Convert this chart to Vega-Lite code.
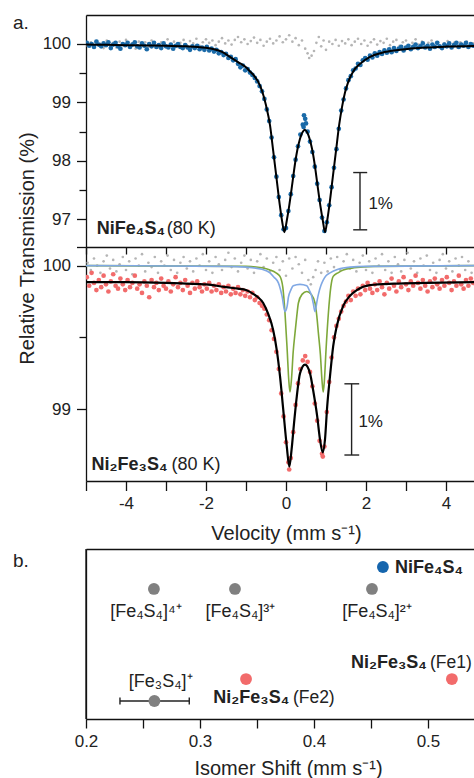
{
"$schema": "https://vega.github.io/schema/vega-lite/v6.json",
"width": 388, "height": 704,
"autosize": "none",
"padding": {"left": 86, "top": 15, "right": 0, "bottom": 59},
"background": "white",
"config": {
  "font": "Liberation Sans",
  "view": {"stroke": null},
  "axis": {"domainColor": "#111", "domainWidth": 1.3, "tickColor": "#111", "tickWidth": 1.3, "labelColor": "#222", "labelFontSize": 17, "labelFont": "Liberation Sans", "titleFont": "Liberation Sans", "titleFontWeight": "normal", "titleFontSize": 20, "titleColor": "#222", "grid": false, "labelOverlap": false, "labelBound": false, "labelFlush": false},
  "text": {"font": "Liberation Sans", "color": "#222"}
},
"datasets": {
  "blue": [
{"v":-4.98,"t":100.02},{"v":-4.92,"t":99.97},{"v":-4.86,"t":100.0},{"v":-4.8,"t":99.95},{"v":-4.74,"t":100.04},{"v":-4.68,"t":99.99},{"v":-4.62,"t":99.96},{"v":-4.56,"t":100.01},{"v":-4.5,"t":99.98},{"v":-4.44,"t":100.03},{"v":-4.38,"t":99.93},{"v":-4.32,"t":99.99},{"v":-4.26,"t":100.02},{"v":-4.2,"t":99.96},{"v":-4.14,"t":99.92},{"v":-4.08,"t":100.0},{"v":-4.02,"t":99.98},{"v":-3.96,"t":100.02},{"v":-3.9,"t":99.95},{"v":-3.84,"t":99.99},{"v":-3.78,"t":100.03},{"v":-3.72,"t":99.96},{"v":-3.66,"t":99.94},{"v":-3.6,"t":100.01},{"v":-3.54,"t":99.97},{"v":-3.48,"t":99.91},{"v":-3.42,"t":100.0},{"v":-3.36,"t":99.96},{"v":-3.3,"t":100.02},{"v":-3.24,"t":99.95},{"v":-3.18,"t":99.98},{"v":-3.12,"t":99.93},{"v":-3.06,"t":100.01},{"v":-3.0,"t":99.96},{"v":-2.94,"t":99.94},{"v":-2.88,"t":99.99},{"v":-2.82,"t":99.92},{"v":-2.76,"t":99.97},{"v":-2.7,"t":100.0},{"v":-2.64,"t":99.95},{"v":-2.58,"t":99.93},{"v":-2.52,"t":99.98},{"v":-2.46,"t":99.94},{"v":-2.4,"t":99.9},{"v":-2.34,"t":99.96},{"v":-2.28,"t":99.93},{"v":-2.22,"t":99.97},{"v":-2.16,"t":99.91},{"v":-2.1,"t":99.94},{"v":-2.04,"t":99.9},{"v":-1.98,"t":99.95},{"v":-1.92,"t":99.89},{"v":-1.86,"t":99.92},{"v":-1.8,"t":99.87},{"v":-1.74,"t":99.9},{"v":-1.68,"t":99.84},{"v":-1.62,"t":99.86},{"v":-1.56,"t":99.81},{"v":-1.5,"t":99.83},{"v":-1.44,"t":99.76},{"v":-1.38,"t":99.78},{"v":-1.32,"t":99.72},{"v":-1.26,"t":99.74},{"v":-1.2,"t":99.66},{"v":-1.14,"t":99.6},{"v":-1.08,"t":99.63},{"v":-1.02,"t":99.55},{"v":-0.96,"t":99.57},{"v":-0.9,"t":99.51},{"v":-0.84,"t":99.47},{"v":-0.78,"t":99.42},{"v":-0.72,"t":99.36},{"v":-0.66,"t":99.28},{"v":-0.6,"t":99.19},{"v":-0.54,"t":99.06},{"v":-0.48,"t":98.88},{"v":-0.42,"t":98.68},{"v":-0.36,"t":98.4},{"v":-0.3,"t":98.06},{"v":-0.24,"t":97.73},{"v":-0.18,"t":97.38},{"v":-0.12,"t":97.07},{"v":-0.06,"t":96.83},{"v":0.0,"t":96.85},{"v":0.06,"t":97.14},{"v":0.12,"t":97.43},{"v":0.18,"t":97.74},{"v":0.24,"t":98.02},{"v":0.3,"t":98.25},{"v":0.36,"t":98.45},{"v":0.42,"t":98.62},{"v":0.48,"t":98.72},{"v":0.54,"t":98.5},{"v":0.6,"t":98.33},{"v":0.66,"t":98.15},{"v":0.72,"t":97.9},{"v":0.78,"t":97.61},{"v":0.84,"t":97.33},{"v":0.9,"t":97.03},{"v":0.96,"t":96.8},{"v":1.02,"t":96.95},{"v":1.08,"t":97.24},{"v":1.14,"t":97.55},{"v":1.2,"t":97.88},{"v":1.26,"t":98.2},{"v":1.32,"t":98.55},{"v":1.38,"t":98.86},{"v":1.44,"t":99.05},{"v":1.5,"t":99.24},{"v":1.56,"t":99.38},{"v":1.62,"t":99.45},{"v":1.68,"t":99.55},{"v":1.74,"t":99.58},{"v":1.8,"t":99.66},{"v":1.86,"t":99.64},{"v":1.92,"t":99.72},{"v":1.98,"t":99.76},{"v":2.04,"t":99.73},{"v":2.1,"t":99.8},{"v":2.16,"t":99.77},{"v":2.22,"t":99.84},{"v":2.28,"t":99.8},{"v":2.34,"t":99.86},{"v":2.4,"t":99.83},{"v":2.46,"t":99.89},{"v":2.52,"t":99.85},{"v":2.58,"t":99.91},{"v":2.64,"t":99.86},{"v":2.7,"t":99.93},{"v":2.76,"t":99.88},{"v":2.82,"t":99.92},{"v":2.88,"t":99.95},{"v":2.94,"t":99.89},{"v":3.0,"t":99.94},{"v":3.06,"t":99.97},{"v":3.12,"t":99.91},{"v":3.18,"t":99.95},{"v":3.24,"t":99.99},{"v":3.3,"t":99.93},{"v":3.36,"t":99.96},{"v":3.42,"t":100.01},{"v":3.48,"t":99.94},{"v":3.54,"t":99.97},{"v":3.6,"t":99.92},{"v":3.66,"t":99.99},{"v":3.72,"t":99.95},{"v":3.78,"t":100.02},{"v":3.84,"t":99.96},{"v":3.9,"t":99.93},{"v":3.96,"t":99.99},{"v":4.02,"t":99.96},{"v":4.08,"t":100.01},{"v":4.14,"t":99.94},{"v":4.2,"t":99.98},{"v":4.26,"t":100.02},{"v":4.32,"t":99.95},{"v":4.38,"t":99.99},{"v":4.44,"t":99.97},{"v":4.5,"t":100.02},{"v":4.56,"t":99.95},{"v":4.62,"t":100.0},{"v":4.68,"t":99.97},{"v":0.45,"t":98.78},{"v":0.5,"t":98.64},{"v":0.44,"t":98.58}
  ],
  "grayTop": [
{"v":-4.96,"t":99.97},{"v":-4.88,"t":100.03},{"v":-4.8,"t":99.95},{"v":-4.72,"t":100.05},{"v":-4.64,"t":100.0},{"v":-4.56,"t":99.93},{"v":-4.48,"t":100.06},{"v":-4.4,"t":99.98},{"v":-4.32,"t":100.02},{"v":-4.24,"t":99.94},{"v":-4.16,"t":100.04},{"v":-4.08,"t":99.99},{"v":-4.0,"t":100.07},{"v":-3.92,"t":99.96},{"v":-3.84,"t":100.01},{"v":-3.76,"t":99.92},{"v":-3.68,"t":100.04},{"v":-3.6,"t":99.98},{"v":-3.52,"t":100.03},{"v":-3.44,"t":99.95},{"v":-3.36,"t":100.06},{"v":-3.28,"t":100.0},{"v":-3.2,"t":99.94},{"v":-3.12,"t":100.03},{"v":-3.04,"t":99.97},{"v":-2.96,"t":100.08},{"v":-2.88,"t":99.99},{"v":-2.8,"t":100.04},{"v":-2.72,"t":99.95},{"v":-2.64,"t":100.02},{"v":-2.56,"t":100.07},{"v":-2.48,"t":99.98},{"v":-2.4,"t":100.05},{"v":-2.32,"t":100.01},{"v":-2.24,"t":100.09},{"v":-2.16,"t":99.97},{"v":-2.08,"t":100.03},{"v":-2.0,"t":100.08},{"v":-1.92,"t":100.02},{"v":-1.84,"t":100.06},{"v":-1.76,"t":99.98},{"v":-1.68,"t":100.04},{"v":-1.6,"t":100.1},{"v":-1.52,"t":100.01},{"v":-1.44,"t":100.06},{"v":-1.36,"t":99.99},{"v":-1.28,"t":100.07},{"v":-1.2,"t":100.12},{"v":-1.12,"t":100.03},{"v":-1.04,"t":100.08},{"v":-0.96,"t":100.0},{"v":-0.88,"t":100.05},{"v":-0.8,"t":100.11},{"v":-0.72,"t":100.02},{"v":-0.64,"t":100.07},{"v":-0.56,"t":99.97},{"v":-0.48,"t":100.04},{"v":-0.4,"t":100.09},{"v":-0.32,"t":100.01},{"v":-0.24,"t":100.06},{"v":-0.16,"t":100.13},{"v":-0.08,"t":100.03},{"v":0.0,"t":100.08},{"v":0.08,"t":100.15},{"v":0.16,"t":100.04},{"v":0.24,"t":100.1},{"v":0.32,"t":99.98},{"v":0.4,"t":100.06},{"v":0.48,"t":99.92},{"v":0.54,"t":99.84},{"v":0.58,"t":99.76},{"v":0.64,"t":99.8},{"v":0.7,"t":99.88},{"v":0.76,"t":100.02},{"v":0.82,"t":100.12},{"v":0.88,"t":99.96},{"v":0.94,"t":100.06},{"v":1.0,"t":99.9},{"v":1.08,"t":100.04},{"v":1.16,"t":100.0},{"v":1.24,"t":100.07},{"v":1.32,"t":99.97},{"v":1.4,"t":100.05},{"v":1.48,"t":100.01},{"v":1.56,"t":100.08},{"v":1.64,"t":99.98},{"v":1.72,"t":100.04},{"v":1.8,"t":100.09},{"v":1.88,"t":100.0},{"v":1.96,"t":100.06},{"v":2.04,"t":99.97},{"v":2.12,"t":100.03},{"v":2.2,"t":100.08},{"v":2.28,"t":99.99},{"v":2.36,"t":100.05},{"v":2.44,"t":100.02},{"v":2.52,"t":100.09},{"v":2.6,"t":99.98},{"v":2.68,"t":100.04},{"v":2.76,"t":100.07},{"v":2.84,"t":99.97},{"v":2.92,"t":100.03},{"v":3.0,"t":100.06},{"v":3.08,"t":99.95},{"v":3.16,"t":100.02},{"v":3.24,"t":100.08},{"v":3.32,"t":99.99},{"v":3.4,"t":100.04},{"v":3.48,"t":99.96},{"v":3.56,"t":100.02},{"v":3.64,"t":100.06},{"v":3.72,"t":99.97},{"v":3.8,"t":100.03},{"v":3.88,"t":99.95},{"v":3.96,"t":100.01},{"v":4.04,"t":100.05},{"v":4.12,"t":99.96},{"v":4.2,"t":100.02},{"v":4.28,"t":99.94},{"v":4.36,"t":100.03},{"v":4.44,"t":99.98},{"v":4.52,"t":100.04},{"v":4.6,"t":99.96},{"v":4.68,"t":100.01}
  ],
  "fitTop": [
{"v":-5.0,"t":99.99},{"v":-4.5,"t":99.985},{"v":-4.0,"t":99.98},{"v":-3.5,"t":99.975},{"v":-3.0,"t":99.97},{"v":-2.5,"t":99.96},{"v":-2.2,"t":99.95},{"v":-2.0,"t":99.935},{"v":-1.8,"t":99.91},{"v":-1.6,"t":99.865},{"v":-1.4,"t":99.78},{"v":-1.2,"t":99.69},{"v":-1.0,"t":99.6},{"v":-0.9,"t":99.53},{"v":-0.8,"t":99.46},{"v":-0.7,"t":99.36},{"v":-0.6,"t":99.2},{"v":-0.5,"t":98.95},{"v":-0.4,"t":98.61},{"v":-0.32,"t":98.17},{"v":-0.24,"t":97.72},{"v":-0.16,"t":97.27},{"v":-0.1,"t":96.98},{"v":-0.04,"t":96.78},{"v":0.02,"t":96.98},{"v":0.08,"t":97.23},{"v":0.14,"t":97.52},{"v":0.2,"t":97.83},{"v":0.26,"t":98.1},{"v":0.32,"t":98.3},{"v":0.38,"t":98.44},{"v":0.47,"t":98.53},{"v":0.56,"t":98.44},{"v":0.62,"t":98.3},{"v":0.68,"t":98.1},{"v":0.74,"t":97.83},{"v":0.8,"t":97.52},{"v":0.86,"t":97.23},{"v":0.92,"t":96.98},{"v":0.975,"t":96.78},{"v":1.03,"t":96.98},{"v":1.09,"t":97.27},{"v":1.17,"t":97.72},{"v":1.25,"t":98.17},{"v":1.33,"t":98.62},{"v":1.4,"t":98.92},{"v":1.475,"t":99.17},{"v":1.55,"t":99.34},{"v":1.68,"t":99.53},{"v":1.85,"t":99.66},{"v":2.1,"t":99.78},{"v":2.4,"t":99.85},{"v":2.85,"t":99.9},{"v":3.5,"t":99.94},{"v":4.0,"t":99.955},{"v":4.7,"t":99.965}
  ],
  "red": [
{"v":-4.98,"t":99.92},{"v":-4.92,"t":99.86},{"v":-4.86,"t":99.95},{"v":-4.8,"t":99.88},{"v":-4.74,"t":99.83},{"v":-4.68,"t":99.9},{"v":-4.62,"t":99.85},{"v":-4.56,"t":99.93},{"v":-4.5,"t":99.87},{"v":-4.44,"t":99.82},{"v":-4.38,"t":99.89},{"v":-4.32,"t":99.94},{"v":-4.26,"t":99.86},{"v":-4.2,"t":99.84},{"v":-4.14,"t":99.91},{"v":-4.08,"t":99.87},{"v":-4.02,"t":99.83},{"v":-3.96,"t":99.9},{"v":-3.9,"t":99.85},{"v":-3.84,"t":99.88},{"v":-3.78,"t":99.93},{"v":-3.72,"t":99.84},{"v":-3.66,"t":99.87},{"v":-3.6,"t":99.81},{"v":-3.54,"t":99.89},{"v":-3.48,"t":99.86},{"v":-3.42,"t":99.78},{"v":-3.36,"t":99.9},{"v":-3.3,"t":99.85},{"v":-3.24,"t":99.88},{"v":-3.18,"t":99.83},{"v":-3.12,"t":99.91},{"v":-3.06,"t":99.86},{"v":-3.0,"t":99.84},{"v":-2.94,"t":99.89},{"v":-2.88,"t":99.82},{"v":-2.82,"t":99.87},{"v":-2.76,"t":99.92},{"v":-2.7,"t":99.85},{"v":-2.64,"t":99.88},{"v":-2.58,"t":99.83},{"v":-2.52,"t":99.9},{"v":-2.46,"t":99.86},{"v":-2.4,"t":99.81},{"v":-2.34,"t":99.88},{"v":-2.28,"t":99.84},{"v":-2.22,"t":99.89},{"v":-2.16,"t":99.85},{"v":-2.1,"t":99.82},{"v":-2.04,"t":99.87},{"v":-1.98,"t":99.84},{"v":-1.92,"t":99.88},{"v":-1.86,"t":99.82},{"v":-1.8,"t":99.86},{"v":-1.74,"t":99.83},{"v":-1.68,"t":99.87},{"v":-1.62,"t":99.81},{"v":-1.56,"t":99.85},{"v":-1.5,"t":99.82},{"v":-1.44,"t":99.86},{"v":-1.38,"t":99.8},{"v":-1.32,"t":99.84},{"v":-1.26,"t":99.81},{"v":-1.2,"t":99.85},{"v":-1.14,"t":99.8},{"v":-1.08,"t":99.83},{"v":-1.02,"t":99.79},{"v":-0.96,"t":99.82},{"v":-0.9,"t":99.78},{"v":-0.84,"t":99.81},{"v":-0.78,"t":99.76},{"v":-0.72,"t":99.78},{"v":-0.66,"t":99.74},{"v":-0.6,"t":99.72},{"v":-0.54,"t":99.7},{"v":-0.48,"t":99.66},{"v":-0.42,"t":99.62},{"v":-0.36,"t":99.55},{"v":-0.3,"t":99.49},{"v":-0.24,"t":99.4},{"v":-0.18,"t":99.28},{"v":-0.12,"t":99.11},{"v":-0.06,"t":98.95},{"v":0.0,"t":98.77},{"v":0.06,"t":98.63},{"v":0.08,"t":98.58},{"v":0.12,"t":98.66},{"v":0.18,"t":98.84},{"v":0.24,"t":99.03},{"v":0.3,"t":99.18},{"v":0.36,"t":99.28},{"v":0.42,"t":99.34},{"v":0.48,"t":99.37},{"v":0.54,"t":99.33},{"v":0.6,"t":99.26},{"v":0.66,"t":99.16},{"v":0.72,"t":99.04},{"v":0.78,"t":98.92},{"v":0.84,"t":98.78},{"v":0.9,"t":98.69},{"v":0.92,"t":98.67},{"v":0.96,"t":98.74},{"v":1.02,"t":98.98},{"v":1.08,"t":99.19},{"v":1.14,"t":99.36},{"v":1.2,"t":99.5},{"v":1.26,"t":99.58},{"v":1.32,"t":99.63},{"v":1.38,"t":99.68},{"v":1.44,"t":99.72},{"v":1.5,"t":99.75},{"v":1.56,"t":99.79},{"v":1.62,"t":99.76},{"v":1.68,"t":99.82},{"v":1.74,"t":99.79},{"v":1.8,"t":99.84},{"v":1.86,"t":99.8},{"v":1.92,"t":99.86},{"v":1.98,"t":99.83},{"v":2.04,"t":99.88},{"v":2.1,"t":99.84},{"v":2.16,"t":99.81},{"v":2.22,"t":99.87},{"v":2.28,"t":99.83},{"v":2.34,"t":99.89},{"v":2.4,"t":99.85},{"v":2.46,"t":99.8},{"v":2.52,"t":99.88},{"v":2.58,"t":99.84},{"v":2.64,"t":99.91},{"v":2.7,"t":99.86},{"v":2.76,"t":99.82},{"v":2.82,"t":99.89},{"v":2.88,"t":99.85},{"v":2.94,"t":99.92},{"v":3.0,"t":99.87},{"v":3.06,"t":99.83},{"v":3.12,"t":99.89},{"v":3.18,"t":99.86},{"v":3.24,"t":99.93},{"v":3.3,"t":99.88},{"v":3.36,"t":99.84},{"v":3.42,"t":99.9},{"v":3.48,"t":99.86},{"v":3.54,"t":99.82},{"v":3.6,"t":99.89},{"v":3.66,"t":99.85},{"v":3.72,"t":99.91},{"v":3.78,"t":99.87},{"v":3.84,"t":99.84},{"v":3.9,"t":99.9},{"v":3.96,"t":99.86},{"v":4.02,"t":99.92},{"v":4.08,"t":99.88},{"v":4.14,"t":99.83},{"v":4.2,"t":99.89},{"v":4.26,"t":99.86},{"v":4.32,"t":99.93},{"v":4.38,"t":99.87},{"v":4.44,"t":99.84},{"v":4.5,"t":99.9},{"v":4.56,"t":99.86},{"v":4.62,"t":99.91},{"v":4.68,"t":99.88}
  ],
  "grayMid": [
{"v":-4.96,"t":100.02},{"v":-4.88,"t":99.97},{"v":-4.8,"t":100.05},{"v":-4.72,"t":100.0},{"v":-4.64,"t":99.95},{"v":-4.56,"t":100.03},{"v":-4.48,"t":100.07},{"v":-4.4,"t":99.98},{"v":-4.32,"t":100.04},{"v":-4.24,"t":99.96},{"v":-4.16,"t":100.01},{"v":-4.08,"t":100.06},{"v":-4.0,"t":99.97},{"v":-3.92,"t":100.03},{"v":-3.84,"t":99.94},{"v":-3.76,"t":100.05},{"v":-3.68,"t":100.0},{"v":-3.6,"t":100.08},{"v":-3.52,"t":99.96},{"v":-3.44,"t":100.02},{"v":-3.36,"t":99.99},{"v":-3.28,"t":100.06},{"v":-3.2,"t":99.95},{"v":-3.12,"t":100.03},{"v":-3.04,"t":100.0},{"v":-2.96,"t":100.07},{"v":-2.88,"t":99.97},{"v":-2.8,"t":100.04},{"v":-2.72,"t":99.95},{"v":-2.64,"t":100.02},{"v":-2.56,"t":100.06},{"v":-2.48,"t":99.98},{"v":-2.4,"t":100.03},{"v":-2.32,"t":99.96},{"v":-2.24,"t":100.05},{"v":-2.16,"t":100.0},{"v":-2.08,"t":100.08},{"v":-2.0,"t":99.97},{"v":-1.92,"t":100.03},{"v":-1.84,"t":99.95},{"v":-1.76,"t":100.06},{"v":-1.68,"t":100.01},{"v":-1.6,"t":99.97},{"v":-1.52,"t":100.04},{"v":-1.44,"t":100.09},{"v":-1.36,"t":99.99},{"v":-1.28,"t":100.05},{"v":-1.2,"t":99.96},{"v":-1.12,"t":100.02},{"v":-1.04,"t":100.07},{"v":-0.96,"t":99.98},{"v":-0.88,"t":100.04},{"v":-0.8,"t":99.95},{"v":-0.72,"t":100.03},{"v":-0.64,"t":100.08},{"v":-0.56,"t":99.99},{"v":-0.48,"t":100.05},{"v":-0.4,"t":99.96},{"v":-0.32,"t":100.02},{"v":-0.24,"t":100.06},{"v":-0.16,"t":99.97},{"v":-0.08,"t":100.03},{"v":0.0,"t":99.93},{"v":0.08,"t":100.05},{"v":0.16,"t":99.98},{"v":0.24,"t":100.06},{"v":0.32,"t":100.01},{"v":0.4,"t":99.95},{"v":0.48,"t":100.04},{"v":0.56,"t":99.9},{"v":0.62,"t":99.87},{"v":0.68,"t":99.92},{"v":0.74,"t":99.97},{"v":0.8,"t":100.03},{"v":0.88,"t":99.95},{"v":0.96,"t":100.02},{"v":1.04,"t":99.96},{"v":1.12,"t":100.05},{"v":1.2,"t":99.99},{"v":1.28,"t":100.06},{"v":1.36,"t":99.97},{"v":1.44,"t":100.03},{"v":1.52,"t":100.08},{"v":1.6,"t":99.98},{"v":1.68,"t":100.04},{"v":1.76,"t":99.96},{"v":1.84,"t":100.02},{"v":1.92,"t":100.07},{"v":2.0,"t":99.97},{"v":2.08,"t":100.03},{"v":2.16,"t":99.95},{"v":2.24,"t":100.05},{"v":2.32,"t":100.0},{"v":2.4,"t":100.08},{"v":2.48,"t":99.97},{"v":2.56,"t":100.03},{"v":2.64,"t":99.95},{"v":2.72,"t":100.06},{"v":2.8,"t":100.01},{"v":2.88,"t":99.96},{"v":2.96,"t":100.04},{"v":3.04,"t":100.09},{"v":3.12,"t":99.98},{"v":3.2,"t":100.03},{"v":3.28,"t":99.95},{"v":3.36,"t":100.05},{"v":3.44,"t":100.0},{"v":3.52,"t":100.07},{"v":3.6,"t":99.97},{"v":3.68,"t":100.02},{"v":3.76,"t":99.95},{"v":3.84,"t":100.04},{"v":3.92,"t":100.08},{"v":4.0,"t":99.98},{"v":4.08,"t":100.03},{"v":4.16,"t":99.96},{"v":4.24,"t":100.05},{"v":4.32,"t":100.0},{"v":4.4,"t":100.06},{"v":4.48,"t":99.97},{"v":4.56,"t":100.03},{"v":4.64,"t":99.95}
  ],
  "fitMid": [
{"v":-5.0,"t":99.885},{"v":-4.0,"t":99.885},{"v":-3.0,"t":99.88},{"v":-2.5,"t":99.875},{"v":-2.0,"t":99.87},{"v":-1.5,"t":99.85},{"v":-1.2,"t":99.84},{"v":-1.0,"t":99.83},{"v":-0.8,"t":99.8},{"v":-0.7,"t":99.78},{"v":-0.57,"t":99.74},{"v":-0.44,"t":99.66},{"v":-0.32,"t":99.55},{"v":-0.23,"t":99.41},{"v":-0.15,"t":99.23},{"v":-0.07,"t":99.0},{"v":0.02,"t":98.74},{"v":0.083,"t":98.6},{"v":0.14,"t":98.72},{"v":0.2,"t":98.9},{"v":0.27,"t":99.09},{"v":0.35,"t":99.25},{"v":0.475,"t":99.31},{"v":0.6,"t":99.25},{"v":0.68,"t":99.13},{"v":0.78,"t":98.95},{"v":0.85,"t":98.79},{"v":0.917,"t":98.7},{"v":0.975,"t":98.79},{"v":1.03,"t":99.02},{"v":1.1,"t":99.23},{"v":1.18,"t":99.44},{"v":1.27,"t":99.58},{"v":1.43,"t":99.72},{"v":1.6,"t":99.79},{"v":1.77,"t":99.83},{"v":2.1,"t":99.865},{"v":2.7,"t":99.875},{"v":3.5,"t":99.88},{"v":4.7,"t":99.885}
  ],
  "fitGreen": [
{"v":-5.0,"t":100.0},{"v":-1.0,"t":99.995},{"v":-0.6,"t":99.985},{"v":-0.4,"t":99.97},{"v":-0.25,"t":99.95},{"v":-0.15,"t":99.925},{"v":-0.08,"t":99.85},{"v":-0.025,"t":99.67},{"v":0.03,"t":99.41},{"v":0.07,"t":99.2},{"v":0.1,"t":99.12},{"v":0.14,"t":99.22},{"v":0.18,"t":99.4},{"v":0.225,"t":99.53},{"v":0.27,"t":99.65},{"v":0.31,"t":99.74},{"v":0.4,"t":99.8},{"v":0.52,"t":99.82},{"v":0.63,"t":99.8},{"v":0.725,"t":99.74},{"v":0.77,"t":99.65},{"v":0.81,"t":99.53},{"v":0.86,"t":99.38},{"v":0.9,"t":99.2},{"v":0.93,"t":99.12},{"v":0.96,"t":99.2},{"v":1.0,"t":99.41},{"v":1.06,"t":99.67},{"v":1.12,"t":99.85},{"v":1.18,"t":99.925},{"v":1.3,"t":99.95},{"v":1.43,"t":99.97},{"v":1.7,"t":99.985},{"v":2.2,"t":99.995},{"v":4.7,"t":100.0}
  ],
  "fitBlue": [
{"v":-5.0,"t":100.0},{"v":-1.5,"t":99.995},{"v":-1.0,"t":99.99},{"v":-0.6,"t":99.975},{"v":-0.4,"t":99.95},{"v":-0.3,"t":99.92},{"v":-0.19,"t":99.88},{"v":-0.1,"t":99.79},{"v":-0.025,"t":99.68},{"v":0.03,"t":99.72},{"v":0.06,"t":99.78},{"v":0.12,"t":99.83},{"v":0.18,"t":99.86},{"v":0.35,"t":99.87},{"v":0.52,"t":99.86},{"v":0.58,"t":99.83},{"v":0.64,"t":99.79},{"v":0.68,"t":99.74},{"v":0.725,"t":99.68},{"v":0.78,"t":99.76},{"v":0.81,"t":99.8},{"v":0.87,"t":99.86},{"v":0.93,"t":99.9},{"v":1.0,"t":99.93},{"v":1.1,"t":99.95},{"v":1.3,"t":99.975},{"v":1.6,"t":99.99},{"v":2.0,"t":99.995},{"v":4.7,"t":100.0}
  ]
},
"layer": [
  {
    "layer": [
      {
        "encoding": {
          "x": {"field": "v", "type": "quantitative", "scale": {"domain": [-5, 4.7], "nice": false, "zero": false},
                "axis": {"orient": "bottom", "offset": -472, "values": [-5,-4,-3,-2,-1,0,1,2,3,4], "labels": false, "tickSize": 7, "title": null}},
          "y": {"field": "t", "type": "quantitative", "scale": {"domain": [96.526, 100.496], "range": [232, 0], "nice": false, "zero": false},
                "axis": {"orient": "left", "values": [97, 97.5, 98, 98.5, 99, 99.5, 100], "labelExpr": "datum.value % 1 === 0 ? '' + datum.value : ''", "tickSize": {"condition": {"test": "datum.value % 1 !== 0", "value": 7}, "value": 9.5}, "labelPadding": 6,
                         "title": "Relative Transmission (%)", "titleAngle": 270, "titleAlign": "center", "titleBaseline": "alphabetic", "titleX": -53, "titleY": 233}}
        },
        "layer": [
          {"data": {"name": "grayTop"}, "mark": {"type": "circle", "size": 7, "color": "#b5b5b5", "opacity": 1, "clip": true}},
          {"data": {"name": "blue"}, "mark": {"type": "circle", "size": 22, "color": "#1a6aa8", "opacity": 1, "clip": true}},
          {"data": {"name": "fitTop"}, "mark": {"type": "line", "color": "#000", "strokeWidth": 2, "interpolate": "monotone", "clip": true}},
          {"data": {"values": [{"v": 1.85, "t": 96.82, "t2": 97.8}]}, "mark": {"type": "rule", "color": "#222", "strokeWidth": 1.4}, "encoding": {"y2": {"field": "t2"}}},
          {"data": {"values": [{"v": 1.68, "v2": 2.03, "t": 96.82}, {"v": 1.68, "v2": 2.03, "t": 97.8}]}, "mark": {"type": "rule", "color": "#222", "strokeWidth": 1.4}, "encoding": {"x2": {"field": "v2"}}},
          {"data": {"values": [{"v": 2.06, "t": 97.27, "label": "1%"}]}, "mark": {"type": "text", "align": "left", "baseline": "middle", "fontSize": 17}, "encoding": {"text": {"field": "label"}}},
          {"data": {"values": [{"v": -4.73, "t": 96.83, "label": "NiFe₄S₄"}]}, "mark": {"type": "text", "align": "left", "baseline": "middle", "fontSize": 18, "fontWeight": "bold"}, "encoding": {"text": {"field": "label"}}},
          {"data": {"values": [{"v": -2.98, "t": 96.83, "label": "(80 K)"}]}, "mark": {"type": "text", "align": "left", "baseline": "middle", "fontSize": 18}, "encoding": {"text": {"field": "label"}}}
        ]
      },
      {
        "encoding": {
          "x": {"field": "v", "type": "quantitative", "scale": {"domain": [-5, 4.7], "nice": false, "zero": false},
                "axis": {"orient": "bottom", "offset": -238, "values": [-5,-4,-3,-2,-1,0,1,2,3,4], "labelExpr": "datum.value % 2 === 0 ? '' + datum.value : ''", "tickSize": 9.5, "labelPadding": 5,
                         "title": "Velocity (mm s⁻¹)", "titleX": 200, "titleY": 58, "titleBaseline": "alphabetic"}},
          "y": {"field": "t", "type": "quantitative", "scale": {"domain": [98.5, 100.13], "range": [466, 232], "nice": false, "zero": false},
                "axis": {"orient": "left", "values": [99, 99.5, 100, 100.13], "labelExpr": "datum.value === 99 || datum.value === 100 ? '' + datum.value : ''", "tickSize": {"condition": {"test": "datum.value === 99.5", "value": 7}, "value": 9.5}, "labelPadding": 6, "title": null}}
        },
        "layer": [
          {"data": {"name": "grayMid"}, "mark": {"type": "circle", "size": 7, "color": "#b5b5b5", "opacity": 1, "clip": true}},
          {"data": {"name": "red"}, "mark": {"type": "circle", "size": 22, "color": "#f26b6b", "opacity": 1, "clip": true}},
          {"data": {"name": "fitGreen"}, "mark": {"type": "line", "color": "#7ea83a", "strokeWidth": 1.6, "interpolate": "monotone", "clip": true}},
          {"data": {"name": "fitBlue"}, "mark": {"type": "line", "color": "#80a8e4", "strokeWidth": 1.6, "interpolate": "monotone", "clip": true}},
          {"data": {"name": "fitMid"}, "mark": {"type": "line", "color": "#000", "strokeWidth": 2.2, "interpolate": "monotone", "clip": true}},
          {"data": {"values": [{"v": 1.64, "t": 98.681, "t2": 99.177}]}, "mark": {"type": "rule", "color": "#222", "strokeWidth": 1.4}, "encoding": {"y2": {"field": "t2"}}},
          {"data": {"values": [{"v": 1.46, "v2": 1.83, "t": 98.681}, {"v": 1.46, "v2": 1.83, "t": 99.177}]}, "mark": {"type": "rule", "color": "#222", "strokeWidth": 1.4}, "encoding": {"x2": {"field": "v2"}}},
          {"data": {"values": [{"v": 1.81, "t": 98.91, "label": "1%"}]}, "mark": {"type": "text", "align": "left", "baseline": "middle", "fontSize": 17}, "encoding": {"text": {"field": "label"}}},
          {"data": {"values": [{"v": -4.86, "t": 98.61, "label": "Ni₂Fe₃S₄"}]}, "mark": {"type": "text", "align": "left", "baseline": "middle", "fontSize": 18, "fontWeight": "bold"}, "encoding": {"text": {"field": "label"}}},
          {"data": {"values": [{"v": -2.86, "t": 98.61, "label": "(80 K)"}]}, "mark": {"type": "text", "align": "left", "baseline": "middle", "fontSize": 18}, "encoding": {"text": {"field": "label"}}}
        ]
      },
      {
        "data": {"values": [{"v": -6.825, "t": 100.354, "label": "a."}]},
        "mark": {"type": "text", "align": "left", "baseline": "middle", "fontSize": 19},
        "encoding": {
          "x": {"field": "v", "type": "quantitative", "scale": {"domain": [-5, 4.7], "nice": false, "zero": false},
                "axis": {"orient": "top", "offset": 0, "ticks": false, "labels": false, "title": null}},
          "y": {"field": "t", "type": "quantitative", "scale": {"domain": [96.526, 100.496], "range": [232, 0], "nice": false, "zero": false}, "axis": null},
          "text": {"field": "label"}
        }
      }
    ],
    "resolve": {"scale": {"y": "independent"}, "axis": {"x": "independent", "y": "independent"}}
  },
  {
    "layer": [
      {
        "encoding": {
          "x": {"field": "s", "type": "quantitative", "scale": {"domain": [0.2, 0.5404], "nice": false, "zero": false},
                "axis": {"orient": "bottom", "values": [0.2, 0.25, 0.3, 0.35, 0.4, 0.45, 0.5], "labelExpr": "round(datum.value * 100) % 10 === 0 ? format(datum.value, '.1f') : ''", "tickSize": 9, "labelPadding": 5,
                         "title": "Isomer Shift (mm s⁻¹)", "titleX": 202, "titleY": 55, "titleBaseline": "alphabetic"}},
          "y": {"field": "r", "type": "quantitative", "scale": {"domain": [0, 10], "range": [704, 534], "nice": false, "zero": false},
                "axis": {"orient": "left", "ticks": false, "labels": false, "domain": true, "title": null}}
        },
        "layer": [
          {"data": {"values": [{"s": 0.2, "r": 0, "r2": 10}]}, "mark": {"type": "rule", "color": "#111", "strokeWidth": 1.3}, "encoding": {"y2": {"field": "r2"}}},
          {"data": {"values": [{"s": 0.2298, "s2": 0.2906, "r": 1.06}]}, "mark": {"type": "rule", "color": "#222", "strokeWidth": 1.4}, "encoding": {"x2": {"field": "s2"}}},
          {"data": {"values": [{"s": 0.2298, "r": 0.86, "r2": 1.26}, {"s": 0.2906, "r": 0.86, "r2": 1.26}]}, "mark": {"type": "rule", "color": "#222", "strokeWidth": 1.4}, "encoding": {"y2": {"field": "r2"}}},
          {"data": {"values": [
            {"s": 0.2596, "r": 7.65, "g": "ref"}, {"s": 0.3307, "r": 7.65, "g": "ref"}, {"s": 0.4509, "r": 7.65, "g": "ref"}, {"s": 0.26, "r": 1.06, "g": "ref"},
            {"s": 0.4605, "r": 8.94, "g": "NiFe4S4"}, {"s": 0.3404, "r": 2.35, "g": "Ni2Fe3S4"}, {"s": 0.521, "r": 2.35, "g": "Ni2Fe3S4"}]},
           "mark": {"type": "circle", "size": 140, "opacity": 1},
           "encoding": {"color": {"field": "g", "type": "nominal", "scale": {"domain": ["ref", "NiFe4S4", "Ni2Fe3S4"], "range": ["#808080", "#1565ad", "#f26b6b"]}, "legend": null}}},
          {"data": {"values": [
            {"s": 0.2526, "r": 6.31, "label": "[Fe₄S₄]⁴⁺"}, {"s": 0.3355, "r": 6.31, "label": "[Fe₄S₄]³⁺"}, {"s": 0.4553, "r": 6.31, "label": "[Fe₄S₄]²⁺"}, {"s": 0.2655, "r": 2.19, "label": "[Fe₃S₄]⁺"}]},
           "mark": {"type": "text", "align": "center", "baseline": "middle", "fontSize": 18}, "encoding": {"text": {"field": "label"}}},
          {"data": {"values": [{"s": 0.5018, "r": 3.31, "label": "(Fe1)"}, {"s": 0.3815, "r": 1.22, "label": "(Fe2)"}]},
           "mark": {"type": "text", "align": "left", "baseline": "middle", "fontSize": 17.5}, "encoding": {"text": {"field": "label"}}},
          {"data": {"values": [{"s": 0.471, "r": 8.88, "label": "NiFe₄S₄"}, {"s": 0.4325, "r": 3.31, "label": "Ni₂Fe₃S₄"}, {"s": 0.3117, "r": 1.22, "label": "Ni₂Fe₃S₄"}]},
           "mark": {"type": "text", "align": "left", "baseline": "middle", "fontSize": 18, "fontWeight": "bold"}, "encoding": {"text": {"field": "label"}}}
        ]
      },
      {
        "data": {"values": [{"s": 0.136, "r": 9.29, "label": "b."}]},
        "mark": {"type": "text", "align": "left", "baseline": "middle", "fontSize": 19},
        "encoding": {
          "x": {"field": "s", "type": "quantitative", "scale": {"domain": [0.2, 0.5404], "nice": false, "zero": false},
                "axis": {"orient": "top", "offset": -534, "ticks": false, "labels": false, "title": null}},
          "y": {"field": "r", "type": "quantitative", "scale": {"domain": [0, 10], "range": [704, 534], "nice": false, "zero": false}, "axis": null},
          "text": {"field": "label"}
        }
      }
    ],
    "resolve": {"axis": {"x": "independent", "y": "independent"}}
  }
],
"resolve": {"scale": {"x": "independent", "y": "independent"}, "axis": {"x": "independent", "y": "independent"}}
}
